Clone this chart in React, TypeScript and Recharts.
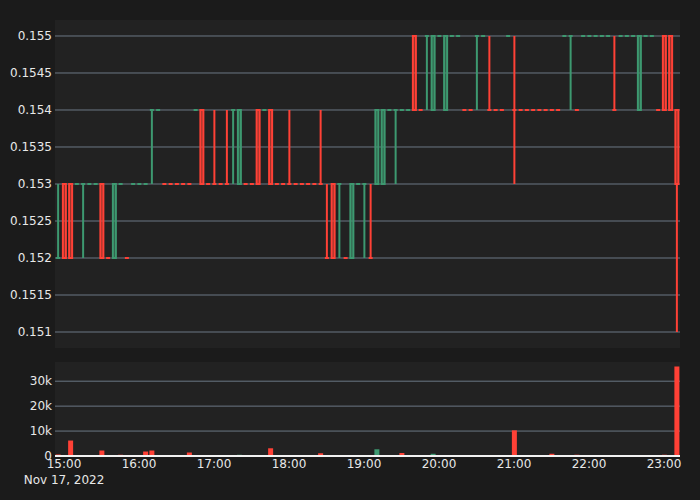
import { ComposedChart, Bar, XAxis, YAxis, CartesianGrid, ReferenceLine, Cell } from 'recharts';

// ─── Data (5-minute candles, 14:55 → 23:10) ──────────────────────────────────
const opens = [
  0.152, 0.153, 0.153, 0.153, 0.153, 0.153, 0.153, 0.153, 0.152, 0.152,
  0.153, 0.152, 0.153, 0.153, 0.153, 0.154, 0.154, 0.153, 0.153, 0.153,
  0.153, 0.153, 0.154, 0.154, 0.153, 0.153, 0.153, 0.153, 0.154, 0.153,
  0.153, 0.153, 0.154, 0.154, 0.154, 0.153, 0.153, 0.153, 0.153, 0.153,
  0.153, 0.153, 0.153, 0.152, 0.153, 0.153, 0.152, 0.152, 0.153, 0.153,
  0.152, 0.153, 0.153, 0.154, 0.154, 0.154, 0.154, 0.155, 0.154, 0.155,
  0.154, 0.155, 0.154, 0.155, 0.155, 0.154, 0.154, 0.155, 0.155, 0.154,
  0.154, 0.154, 0.155, 0.154, 0.154, 0.154, 0.154, 0.154, 0.154, 0.154,
  0.154, 0.155, 0.155, 0.154, 0.155, 0.155, 0.155, 0.155, 0.155, 0.154,
  0.155, 0.155, 0.155, 0.154, 0.155, 0.155, 0.154, 0.155, 0.155, 0.154,
];
const highs = [
  0.153, 0.153, 0.153, 0.153, 0.153, 0.153, 0.153, 0.153, 0.152, 0.153,
  0.153, 0.152, 0.153, 0.153, 0.153, 0.154, 0.154, 0.153, 0.153, 0.153,
  0.153, 0.153, 0.154, 0.154, 0.153, 0.154, 0.153, 0.154, 0.154, 0.154,
  0.153, 0.153, 0.154, 0.154, 0.154, 0.153, 0.153, 0.154, 0.153, 0.153,
  0.153, 0.153, 0.154, 0.153, 0.153, 0.153, 0.152, 0.153, 0.153, 0.153,
  0.153, 0.154, 0.154, 0.154, 0.154, 0.154, 0.154, 0.155, 0.154, 0.155,
  0.155, 0.155, 0.155, 0.155, 0.155, 0.154, 0.154, 0.155, 0.155, 0.155,
  0.154, 0.154, 0.155, 0.155, 0.154, 0.154, 0.154, 0.154, 0.154, 0.154,
  0.154, 0.155, 0.155, 0.154, 0.155, 0.155, 0.155, 0.155, 0.155, 0.155,
  0.155, 0.155, 0.155, 0.155, 0.155, 0.155, 0.154, 0.155, 0.155, 0.154,
];
const lows = [
  0.152, 0.152, 0.152, 0.153, 0.152, 0.153, 0.153, 0.152, 0.152, 0.152,
  0.153, 0.152, 0.153, 0.153, 0.153, 0.153, 0.154, 0.153, 0.153, 0.153,
  0.153, 0.153, 0.154, 0.153, 0.153, 0.153, 0.153, 0.153, 0.153, 0.153,
  0.153, 0.153, 0.153, 0.154, 0.153, 0.153, 0.153, 0.153, 0.153, 0.153,
  0.153, 0.153, 0.153, 0.152, 0.152, 0.152, 0.152, 0.152, 0.153, 0.152,
  0.152, 0.153, 0.153, 0.154, 0.153, 0.154, 0.154, 0.154, 0.154, 0.154,
  0.154, 0.155, 0.154, 0.155, 0.155, 0.154, 0.154, 0.154, 0.155, 0.154,
  0.154, 0.154, 0.155, 0.153, 0.154, 0.154, 0.154, 0.154, 0.154, 0.154,
  0.154, 0.155, 0.154, 0.154, 0.155, 0.155, 0.155, 0.155, 0.155, 0.154,
  0.155, 0.155, 0.155, 0.154, 0.155, 0.155, 0.154, 0.154, 0.154, 0.151,
];
const closes = [
  0.152, 0.152, 0.152, 0.153, 0.153, 0.153, 0.153, 0.152, 0.152, 0.153,
  0.153, 0.152, 0.153, 0.153, 0.153, 0.154, 0.154, 0.153, 0.153, 0.153,
  0.153, 0.153, 0.154, 0.153, 0.153, 0.153, 0.153, 0.153, 0.154, 0.154,
  0.153, 0.153, 0.153, 0.154, 0.153, 0.153, 0.153, 0.153, 0.153, 0.153,
  0.153, 0.153, 0.153, 0.152, 0.152, 0.153, 0.152, 0.153, 0.153, 0.153,
  0.152, 0.154, 0.154, 0.154, 0.154, 0.154, 0.154, 0.154, 0.154, 0.155,
  0.155, 0.155, 0.155, 0.155, 0.155, 0.154, 0.154, 0.155, 0.155, 0.154,
  0.154, 0.154, 0.155, 0.154, 0.154, 0.154, 0.154, 0.154, 0.154, 0.154,
  0.154, 0.155, 0.155, 0.154, 0.155, 0.155, 0.155, 0.155, 0.155, 0.154,
  0.155, 0.155, 0.155, 0.155, 0.155, 0.155, 0.154, 0.154, 0.154, 0.153,
];
const volumes = [
  600, 0, 6200, 0, 400, 0, 0, 2200, 0, 0,
  500, 0, 0, 150, 1800, 2200, 0, 0, 0, 0,
  0, 1400, 150, 300, 0, 150, 0, 0, 150, 500,
  0, 150, 150, 0, 3100, 0, 0, 150, 0, 0,
  0, 0, 1100, 150, 0, 0, 0, 150, 150, 150,
  150, 2700, 0, 0, 150, 1200, 150, 0, 0, 150,
  900, 0, 200, 0, 0, 0, 0, 150, 0, 150,
  0, 0, 0, 10300, 0, 0, 0, 150, 400, 900,
  0, 150, 0, 500, 0, 150, 0, 0, 0, 250,
  150, 150, 0, 150, 0, 0, 0, 500, 0, 35900,
];

const timeTicks = [1, 13, 25, 37, 49, 61, 73, 85, 97];
const timeLabels = ['15:00', '16:00', '17:00', '18:00', '19:00', '20:00', '21:00', '22:00', '23:00'];
const dateLabel = 'Nov 17, 2022';
const priceTicks = [0.151, 0.1515, 0.152, 0.1525, 0.153, 0.1535, 0.154, 0.1545, 0.155];
const volumeTicks = [0, 10000, 20000, 30000];

// ─── Styling ─────────────────────────────────────────────────────────────────
const UP = '#3d9970';
const DOWN = '#ff4136';
const PAPER = '#1b1b1b';
const PLOT = '#222222';
const GRID = '#6b7784';
const TEXT = '#e8e8e8';
const FONT = 'DejaVu Sans';
const X_DOMAIN: [number, number] = [-0.44, 99.56];

// doji candles take their colour from the previous close (plotly rule)
let prevClose: number | null = null;
let rising = true;
const candles = opens.map((o, i) => {
  const c = closes[i];
  if (c !== o) rising = c > o;
  else if (prevClose !== null && c !== prevClose) rising = c > prevClose;
  prevClose = c;
  return { t: i, o, h: highs[i], l: lows[i], c, inc: rising, vol: volumes[i], volUp: c > o };
});

const Candle = (props: any) => {
  const { x, y, width, height, payload } = props;
  const { o, h, l, c, inc } = payload;
  const color = inc ? UP : DOWN;
  const top = Math.min(y, y + height);
  const span = Math.abs(height);
  const cx = x + width / 2;
  const r = h > l ? span / (h - l) : 0;
  const yo = top + (h - o) * r;
  const yc = top + (h - c) * r;
  const bTop = Math.min(yo, yc);
  const bBot = Math.max(yo, yc);
  return (
    <g>
      {bTop > top && <line x1={cx} x2={cx} y1={top} y2={bTop} stroke={color} strokeWidth={2} />}
      {top + span > bBot && <line x1={cx} x2={cx} y1={bBot} y2={top + span} stroke={color} strokeWidth={2} />}
      {bBot - bTop > 0.5 ? (
        <rect x={cx - 1.5} y={bTop} width={3} height={bBot - bTop} fill={color} fillOpacity={0.5} stroke={color} strokeWidth={2} />
      ) : (
        <rect x={cx - 2} y={bTop - 1} width={4} height={2} fill={color} />
      )}
    </g>
  );
};

const TimeTick = (props: any) => {
  const { x, y, payload, index } = props;
  const label = timeLabels[timeTicks.indexOf(payload.value)] ?? '';
  return (
    <g transform={`translate(${x},${y})`}>
      <text textAnchor="middle" dy={12.3} fill={TEXT} fontSize={12} fontFamily={FONT}>{label}</text>
      {index === 0 && (
        <text textAnchor="middle" dy={28.3} fill={TEXT} fontSize={12} fontFamily={FONT}>{dateLabel}</text>
      )}
    </g>
  );
};

const tickStyle = { fill: TEXT, fontSize: 12, fontFamily: FONT };

export default function App() {
  return (
    <div style={{ position: 'absolute', left: 0, top: 0, width: 700, height: 500, background: PAPER }}>
      <div style={{ position: 'absolute', left: 0, top: 0 }}>
        <ComposedChart width={700} height={360} data={candles} margin={{ top: 20, right: 20, bottom: 12, left: 0 }}>
          <CartesianGrid vertical={false} stroke={GRID} fill={PLOT} horizontalValues={priceTicks} />
          <XAxis type="number" dataKey="t" domain={X_DOMAIN} ticks={timeTicks} hide />
          <YAxis
            type="number"
            domain={[0.150784, 0.155216]}
            ticks={priceTicks}
            width={55}
            axisLine={false}
            tickLine={false}
            tickSize={0}
            tickMargin={3}
            tick={tickStyle}
            tickFormatter={(v) => String(v)}
          />
          <Bar
            dataKey={(d: any) => [d.l, d.h]}
            barSize={5}
            shape={(p: any) => <Candle {...p} />}
            isAnimationActive={false}
          />
        </ComposedChart>
      </div>
      <div style={{ position: 'absolute', left: 0, top: 348 }}>
        <ComposedChart width={700} height={152} data={candles} margin={{ top: 14, right: 20, bottom: 0, left: 0 }}>
          <CartesianGrid vertical={false} stroke={GRID} fill={PLOT} horizontalValues={volumeTicks} />
          <XAxis
            type="number"
            dataKey="t"
            domain={X_DOMAIN}
            ticks={timeTicks}
            height={44}
            axisLine={false}
            tickLine={false}
            tickSize={0}
            tickMargin={0}
            tick={(p: any) => <TimeTick {...p} />}
            interval={0}
          />
          <YAxis
            type="number"
            domain={[0, 37700]}
            ticks={volumeTicks}
            width={55}
            axisLine={false}
            tickLine={false}
            tickSize={0}
            tickMargin={3}
            tick={tickStyle}
            tickFormatter={(v) => (v === 0 ? '0' : `${v / 1000}k`)}
          />
          <ReferenceLine y={0} stroke="#f2f2f2" strokeWidth={2} />
          <Bar dataKey="vol" barSize={5} isAnimationActive={false}>
            {candles.map((d) => (
              <Cell key={d.t} fill={d.volUp ? UP : DOWN} />
            ))}
          </Bar>
        </ComposedChart>
      </div>
    </div>
  );
}
